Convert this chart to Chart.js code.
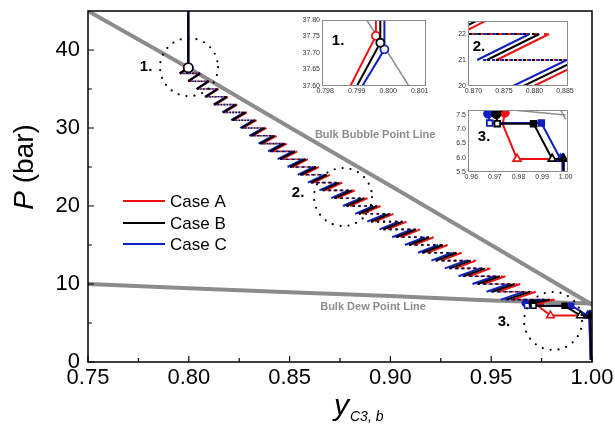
<!DOCTYPE html>
<html>
<head>
<meta charset="utf-8">
<script src="https://cdn.jsdelivr.net/npm/chart.js@4.4.1/dist/chart.umd.min.js"></script>
<style>
  html, body { margin: 0; padding: 0; background: #fff; }
  #wrap { position: relative; width: 615px; height: 426px; }
  #wrap canvas { position: absolute; left: 0; top: 0; }
</style>
</head>
<body>
<div id="wrap">
  <canvas id="main" width="615" height="426"></canvas>
  <canvas id="inset1"></canvas>
  <canvas id="inset2"></canvas>
  <canvas id="inset3"></canvas>
</div>
<script>
// ---- data ----
const P_TOP = 45;
const P_LEVELS = [37, 36, 35, 34, 33, 32, 31, 30, 29, 28, 27, 26, 25, 24, 23, 22, 21, 20, 19, 18, 17, 16, 15, 14, 13, 12, 11, 10, 9, 8];

// Case A (red)
const caseA_bubble = [0.79961, 37.752];
const caseA_xIn  = [0.7956, 0.7999, 0.8042, 0.8086, 0.8131, 0.8176, 0.8222, 0.8269, 0.8316, 0.8364, 0.8413, 0.8463, 0.8514, 0.8566, 0.8619, 0.8678, 0.8738, 0.8799, 0.8861, 0.8923, 0.8986, 0.9051, 0.9116, 0.9183, 0.9251, 0.9320, 0.9390, 0.9461, 0.9533, 0.9606];
const caseA_xOut = [0.8057, 0.8101, 0.8147, 0.8193, 0.8240, 0.8288, 0.8336, 0.8385, 0.8435, 0.8486, 0.8538, 0.8591, 0.8645, 0.8700, 0.8761, 0.8824, 0.8887, 0.8951, 0.9015, 0.9080, 0.9147, 0.9214, 0.9283, 0.9353, 0.9424, 0.9496, 0.9570, 0.9644, 0.9721, 0.9815];
const caseA_endX = [0.9742, 0.9733, 0.9794, 0.9988, 0.9993];
const caseA_endP = [7.58, 7.18, 5.96, 5.96, 0.3];

// Case B (black)
const caseB_bubble = [0.79975, 37.731];
const caseB_xIn  = [0.7956, 0.7998, 0.8040, 0.8083, 0.8127, 0.8171, 0.8216, 0.8262, 0.8308, 0.8355, 0.8403, 0.8452, 0.8502, 0.8553, 0.8605, 0.8663, 0.8722, 0.8782, 0.8843, 0.8904, 0.8966, 0.9030, 0.9094, 0.9160, 0.9227, 0.9295, 0.9364, 0.9434, 0.9505, 0.9577];
const caseB_xOut = [0.8056, 0.8099, 0.8144, 0.8189, 0.8235, 0.8282, 0.8329, 0.8377, 0.8426, 0.8476, 0.8527, 0.8579, 0.8632, 0.8686, 0.8746, 0.8808, 0.8870, 0.8933, 0.8996, 0.9060, 0.9126, 0.9192, 0.9260, 0.9329, 0.9399, 0.9470, 0.9543, 0.9616, 0.9692, 0.9790];
const caseB_endX = [0.9706, 0.9710, 0.9864, 0.9943, 0.9992, 0.9996];
const caseB_endP = [7.53, 7.20, 7.20, 5.96, 5.96, 0.3];

// Case C (blue)
const caseC_bubble = [0.79988, 37.711];
const caseC_xIn  = [0.7954, 0.7997, 0.8038, 0.8080, 0.8123, 0.8166, 0.8210, 0.8255, 0.8300, 0.8346, 0.8393, 0.8441, 0.8490, 0.8540, 0.8591, 0.8648, 0.8706, 0.8765, 0.8825, 0.8885, 0.8946, 0.9009, 0.9072, 0.9137, 0.9203, 0.9270, 0.9338, 0.9407, 0.9477, 0.9548];
const caseC_xOut = [0.8055, 0.8097, 0.8141, 0.8185, 0.8230, 0.8276, 0.8322, 0.8369, 0.8417, 0.8466, 0.8516, 0.8567, 0.8619, 0.8672, 0.8731, 0.8792, 0.8853, 0.8915, 0.8977, 0.9040, 0.9105, 0.9170, 0.9237, 0.9305, 0.9374, 0.9444, 0.9516, 0.9588, 0.9663, 0.9760];
const caseC_endX = [0.9671, 0.9678, 0.9897, 0.9978, 0.9986, 0.9993];
const caseC_endP = [7.55, 7.22, 7.22, 5.96, 5.96, 0.3];

// bulk phase envelope
const bubbleX = [0.75, 0.80, 0.85, 0.90, 0.95, 1.00];
const bubbleP = [45.0, 37.70, 30.10, 22.60, 15.00, 7.35];
const dewX = [0.75, 0.80, 0.85, 0.90, 0.95, 1.00];
const dewP = [10.0, 9.45, 8.95, 8.45, 7.90, 7.50];

// axes
const xMajor = [0.75, 0.80, 0.85, 0.90, 0.95, 1.00];
const xMinor = [0.775, 0.825, 0.875, 0.925, 0.975];
const yMajor = [0, 10, 20, 30, 40];
const yMinor = [5, 15, 25, 35];
const inset1XTicks = [0.798, 0.799, 0.800, 0.801];
const inset1YTicks = [37.60, 37.65, 37.70, 37.75, 37.80];
const inset2XTicks = [0.870, 0.875, 0.880, 0.885];
const inset2YTicks = [20, 21, 22];
const inset3XTicks = [0.96, 0.97, 0.98, 0.99, 1.00];
const inset3YTicks = [5.5, 6.0, 6.5, 7.0, 7.5];

// annotations
const zoneLabels = ['1.', '2.', '3.'];
const zoneLabelX = [0.7788, 0.8542, 0.9563];
const zoneLabelP = [37.8, 21.7, 5.1];
const zoneCenterX = [0.8001, 0.8765, 0.9807];
const zoneCenterP = [37.8, 21.15, 5.26];
const envelopeNames = ['Bulk Bubble Point Line', 'Bulk Dew Point Line'];
const envelopeNameX = [0.8924, 0.8914];
const envelopeNameP = [29.1, 7.05];
const caseNames = ['Case A', 'Case B', 'Case C'];

// ---- styling ----
const FONT = "'Liberation Sans', Arial, sans-serif";
const RED = '#ee1111';
const BLACK = '#000000';
const BLUE = '#1020c0';
const GRAY = '#8c8c8c';

const MARK_STYLE = {
  openCircle: ['circle', false],
  dot: ['circle', true],
  openSq: ['rect', false],
  sq: ['rect', true],
  openTri: ['triangle', false],
  tri: ['triangle', true]
};

function buildPath(bub, xIn, xOut, endX, endP, endMarks) {
  const pts = [{ x: bub[0], y: P_TOP }, { x: bub[0], y: bub[1] }];
  const marks = [null, 'openCircle'];
  P_LEVELS.forEach((p, i) => {
    pts.push({ x: xIn[i], y: p }, { x: xOut[i], y: p });
    marks.push(null, null);
  });
  endX.forEach((x, i) => {
    pts.push({ x: x, y: endP[i] });
    marks.push(endMarks[i]);
  });
  return { pts, marks };
}

// first dataset is painted last (on top); dotted steps interleave by offset
const cases = [
  { name: 'Case B', color: BLACK, dashPhase: 0, path: buildPath(caseB_bubble, caseB_xIn, caseB_xOut, caseB_endX, caseB_endP, ['dot', 'openSq', 'sq', 'openTri', 'tri', null]) },
  { name: 'Case C', color: BLUE, dashPhase: 1, path: buildPath(caseC_bubble, caseC_xIn, caseC_xOut, caseC_endX, caseC_endP, ['dot', 'openSq', 'sq', 'openTri', 'tri', null]) },
  { name: 'Case A', color: RED, dashPhase: 2, path: buildPath(caseA_bubble, caseA_xIn, caseA_xOut, caseA_endX, caseA_endP, ['dot', null, 'openTri', 'tri', null]) }
];

// horizontal flash steps of the staircase are drawn dotted
const isFlash = ctx => ctx.p0.parsed.y === ctx.p1.parsed.y && ctx.p0.parsed.y >= 8;

function caseDataset(c, sz) {
  const mark = i => MARK_STYLE[c.path.marks[i]];
  return {
    label: c.name,
    data: c.path.pts,
    showLine: true,
    borderColor: c.color,
    borderWidth: sz.line,
    borderJoinStyle: 'round',
    pointStyle: ctx => mark(ctx.dataIndex) ? mark(ctx.dataIndex)[0] : false,
    pointRadius: ctx => {
      const m = c.path.marks[ctx.dataIndex];
      if (!m) return 0;
      return m === 'openCircle' ? sz.circle : (m === 'openTri' || m === 'tri' ? sz.tri : sz.mark);
    },
    pointBackgroundColor: ctx => mark(ctx.dataIndex) && mark(ctx.dataIndex)[1] ? c.color : '#ffffff',
    pointBorderColor: c.color,
    pointBorderWidth: sz.markLine,
    segment: {
      borderDash: ctx => isFlash(ctx) ? sz.dash : undefined,
      borderDashOffset: ctx => isFlash(ctx) ? c.dashPhase * sz.dash[0] : undefined,
      borderWidth: ctx => isFlash(ctx) ? sz.dashLine : undefined
    }
  };
}

function envelopeDatasets(width) {
  return [
    { label: 'bubble', data: bubbleX.map((x, i) => ({ x, y: bubbleP[i] })), showLine: true, borderColor: GRAY, borderWidth: width, pointRadius: 0 },
    { label: 'dew', data: dewX.map((x, i) => ({ x, y: dewP[i] })), showLine: true, borderColor: GRAY, borderWidth: width, pointRadius: 0 }
  ];
}

// fixed axis band so the plot area lands where the figure has it
function fixedBand(size) {
  return scale => {
    if (scale.isHorizontal()) scale.height = size; else scale.width = size;
    scale.paddingTop = scale.paddingBottom = scale.paddingLeft = scale.paddingRight = 0;
  };
}

// ---- main chart ----
const mainDecor = {
  id: 'mainDecor',
  afterDatasetsDraw(chart) {
    const { ctx, scales: { x, y } } = chart;
    ctx.save();
    ctx.strokeStyle = '#000';
    ctx.lineWidth = 2.2;
    ctx.lineCap = 'round';
    ctx.setLineDash([0, 8]);
    zoneCenterX.forEach((cx, i) => {
      ctx.beginPath();
      ctx.arc(x.getPixelForValue(cx), y.getPixelForValue(zoneCenterP[i]), 29, 0, Math.PI * 2);
      ctx.stroke();
    });
    ctx.restore();
  },
  afterDraw(chart) {
    const { ctx, chartArea: a, scales: { x, y } } = chart;
    ctx.save();
    // frame
    ctx.strokeStyle = '#000';
    ctx.lineWidth = 1.5;
    ctx.strokeRect(a.left, a.top, a.right - a.left, a.bottom - a.top);
    // inward ticks
    ctx.lineWidth = 1.2;
    ctx.beginPath();
    xMajor.forEach(v => { const px = x.getPixelForValue(v); ctx.moveTo(px, a.bottom); ctx.lineTo(px, a.bottom - 6); });
    xMinor.forEach(v => { const px = x.getPixelForValue(v); ctx.moveTo(px, a.bottom); ctx.lineTo(px, a.bottom - 4); });
    yMajor.forEach(v => { const py = y.getPixelForValue(v); ctx.moveTo(a.left, py); ctx.lineTo(a.left + 6, py); });
    yMinor.forEach(v => { const py = y.getPixelForValue(v); ctx.moveTo(a.left, py); ctx.lineTo(a.left + 4, py); });
    ctx.stroke();

    ctx.fillStyle = '#000';
    // x title: y_{C3, b}
    ctx.textAlign = 'left';
    ctx.textBaseline = 'alphabetic';
    ctx.font = 'italic 30px ' + FONT;
    ctx.fillText('y', 334, 415);
    const wy = ctx.measureText('y').width;
    ctx.font = 'italic 14px ' + FONT;
    ctx.fillText('C3, b', 334 + wy + 1, 421);

    // y title: P (bar)
    ctx.save();
    ctx.translate(33, 167);
    ctx.rotate(-Math.PI / 2);
    ctx.font = 'italic 28px ' + FONT;
    const wP = ctx.measureText('P').width;
    ctx.font = '28px ' + FONT;
    const wRest = ctx.measureText(' (bar)').width;
    const x0 = -(wP + wRest) / 2;
    ctx.font = 'italic 28px ' + FONT;
    ctx.fillText('P', x0, 0);
    ctx.font = '28px ' + FONT;
    ctx.fillText(' (bar)', x0 + wP, 0);
    ctx.restore();

    // legend
    const legendColors = [RED, BLACK, BLUE];
    const legendY = [201, 223, 244];
    ctx.font = '17px ' + FONT;
    ctx.textBaseline = 'middle';
    caseNames.forEach((n, i) => {
      ctx.strokeStyle = legendColors[i];
      ctx.lineWidth = 2;
      ctx.beginPath();
      ctx.moveTo(123, legendY[i]);
      ctx.lineTo(165, legendY[i]);
      ctx.stroke();
      ctx.fillStyle = '#000';
      ctx.fillText(n, 170, legendY[i] + 1);
    });

    // zone labels
    ctx.textAlign = 'center';
    ctx.font = 'bold 15px ' + FONT;
    zoneLabels.forEach((t, i) => {
      ctx.fillText(t, x.getPixelForValue(zoneLabelX[i]), y.getPixelForValue(zoneLabelP[i]));
    });
    // envelope names
    ctx.fillStyle = GRAY;
    ctx.font = 'bold 11px ' + FONT;
    envelopeNames.forEach((t, i) => {
      ctx.fillText(t, x.getPixelForValue(envelopeNameX[i]), y.getPixelForValue(envelopeNameP[i]));
    });
    ctx.restore();
  }
};

const mainSize = { line: 2, dash: [2, 4], dashLine: 1.6, circle: 4.5, mark: 3.5, tri: 4.5, markLine: 1.5 };

new Chart(document.getElementById('main'), {
  type: 'scatter',
  data: {
    datasets: cases.map(c => caseDataset(c, mainSize)).concat(envelopeDatasets(4))
  },
  options: {
    responsive: false,
    animation: false,
    devicePixelRatio: 1,
    layout: { padding: { left: 0, right: 23, top: 11, bottom: 0 } },
    plugins: { legend: { display: false }, tooltip: { enabled: false } },
    scales: {
      x: {
        type: 'linear', min: 0.75, max: 1.0,
        afterBuildTicks: s => { s.ticks = xMajor.map(v => ({ value: v })); },
        afterFit: fixedBand(64),
        grid: { display: false, drawTicks: false },
        border: { display: false },
        ticks: { autoSkip: false, maxRotation: 0, padding: 3, color: '#000', font: { family: FONT, size: 22 }, callback: v => v.toFixed(2) }
      },
      y: {
        type: 'linear', min: 0, max: P_TOP,
        afterBuildTicks: s => { s.ticks = yMajor.map(v => ({ value: v })); },
        afterFit: fixedBand(88),
        grid: { display: false, drawTicks: false },
        border: { display: false },
        ticks: { autoSkip: false, padding: 8, color: '#000', font: { family: FONT, size: 22 }, callback: v => String(v) }
      }
    }
  },
  plugins: [mainDecor]
});

// ---- insets ----
const insetDecor = {
  id: 'insetDecor',
  afterDraw(chart, args, opts) {
    const { ctx, chartArea: a, scales: { x, y } } = chart;
    ctx.save();
    ctx.strokeStyle = '#8a8a8a';
    ctx.lineWidth = 1;
    ctx.strokeRect(a.left + 0.5, a.top + 0.5, a.right - a.left - 1, a.bottom - a.top - 1);
    ctx.fillStyle = '#000';
    ctx.font = 'bold 15px ' + FONT;
    ctx.textAlign = 'center';
    ctx.textBaseline = 'middle';
    ctx.fillText(opts.text, x.getPixelForValue(opts.at[0]), y.getPixelForValue(opts.at[1]));
    ctx.restore();
  }
};

function makeInset(id, rect, xRange, yRange, xTicks, yTicks, xDigits, yDigits, text, at, sz) {
  const cv = document.getElementById(id);
  const m = { l: 30, r: 12, t: 6, b: 12 };
  cv.width = rect.w + m.l + m.r;
  cv.height = rect.h + m.t + m.b;
  cv.style.left = (rect.x - m.l) + 'px';
  cv.style.top = (rect.y - m.t) + 'px';
  const tickFont = { family: FONT, size: 7 };
  new Chart(cv, {
    type: 'scatter',
    data: { datasets: cases.map(c => caseDataset(c, sz)).concat(envelopeDatasets(1.5)) },
    options: {
      responsive: false,
      animation: false,
      devicePixelRatio: 1,
      layout: { padding: { left: 0, right: m.r, top: m.t, bottom: 0 } },
      plugins: { legend: { display: false }, tooltip: { enabled: false }, insetDecor: { text, at } },
      scales: {
        x: {
          type: 'linear', min: xRange[0], max: xRange[1],
          afterBuildTicks: s => { s.ticks = xTicks.map(v => ({ value: v })); },
          afterFit: fixedBand(m.b),
          grid: { display: false, drawTicks: false },
          border: { display: false },
          ticks: { autoSkip: false, maxRotation: 0, padding: 1, color: '#333', font: tickFont, callback: v => v.toFixed(xDigits) }
        },
        y: {
          type: 'linear', min: yRange[0], max: yRange[1],
          afterBuildTicks: s => { s.ticks = yTicks.map(v => ({ value: v })); },
          afterFit: fixedBand(m.l),
          grid: { display: false, drawTicks: false },
          border: { display: false },
          ticks: { autoSkip: false, padding: 2, color: '#333', font: tickFont, callback: v => v.toFixed(yDigits) }
        }
      }
    },
    plugins: [insetDecor]
  });
}

const insetSize = { line: 2, dash: [3, 6], dashLine: 2, circle: 4, mark: 4, tri: 4.5, markLine: 1.8 };

makeInset('inset1', { x: 322, y: 20, w: 104, h: 66 }, [0.7979, 0.8012], [37.60, 37.80],
  inset1XTicks, inset1YTicks, 3, 2, '1.', [0.79841, 37.736], insetSize);
makeInset('inset2', { x: 468, y: 21, w: 100, h: 65 }, [0.8691, 0.8855], [20, 22.5],
  inset2XTicks, inset2YTicks, 3, 0, '2.', [0.8709, 21.5], insetSize);
makeInset('inset3', { x: 468, y: 110, w: 100, h: 62 }, [0.9586, 1.001], [5.5, 7.68],
  inset3XTicks, inset3YTicks, 2, 1, '3.', [0.9654, 6.73], insetSize);
</script>
</body>
</html>
